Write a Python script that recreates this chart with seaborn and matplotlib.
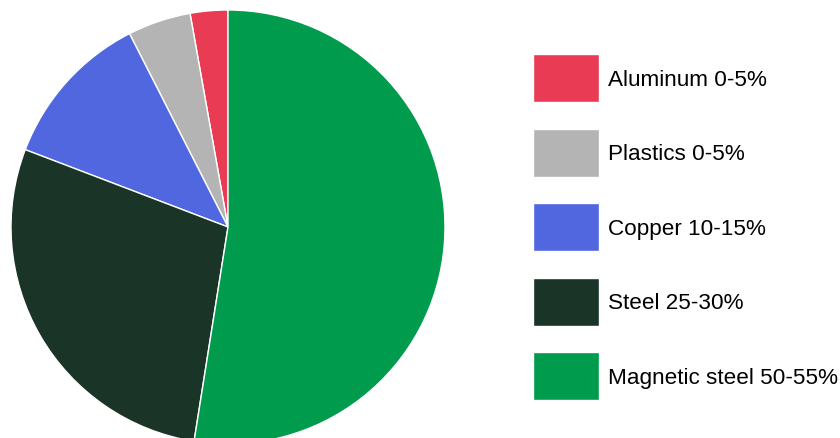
import matplotlib
matplotlib.use("Agg")
import matplotlib.pyplot as plt
import seaborn as sns

materials = ["Aluminum 0-5%", "Plastics 0-5%", "Copper 10-15%", "Steel 25-30%", "Magnetic steel 50-55%"]
shares = [2.8, 4.7, 11.7, 28.3, 52.5]
colors = ["#E93B53", "#B4B4B4", "#5067E0", "#1B3428", "#009B4D"]

sns.set_theme(style="white")
plt.rcParams["font.family"] = ["Liberation Sans", "DejaVu Sans"]
plt.rcParams["text.color"] = "black"

W, H = 840, 439
fig = plt.figure(figsize=(W / 100, H / 100), dpi=100)
fig.patch.set_facecolor("white")

cx, cy, r = 228, 228, 217
ax = fig.add_axes([(cx - r) / W, (H - cy - r) / H, 2 * r / W, 2 * r / H])
wedges, _ = ax.pie(shares, colors=colors, startangle=90, counterclock=True,
                   radius=1, wedgeprops=dict(edgecolor="white", linewidth=1))
ax.set_xlim(-1, 1)
ax.set_ylim(-1, 1)
ax.set_aspect("equal")
ax.axis("off")

fs = 16.2
fpx = fs * 100 / 72
patch_h = 48
hh = (patch_h / fpx - 0.245) / 0.65
leg = fig.legend(wedges, materials, loc="upper left",
                 bbox_to_anchor=(533 / W, 1 - 55 / H), bbox_transform=fig.transFigure,
                 frameon=False, fontsize=fs, borderpad=0, borderaxespad=0,
                 handlelength=66 / fpx, handleheight=hh,
                 labelspacing=(74.5 - patch_h) / fpx, handletextpad=9 / fpx)
for t in leg.get_texts():
    t.set_color("black")

fig.savefig("out.png", dpi=100, facecolor="white")
